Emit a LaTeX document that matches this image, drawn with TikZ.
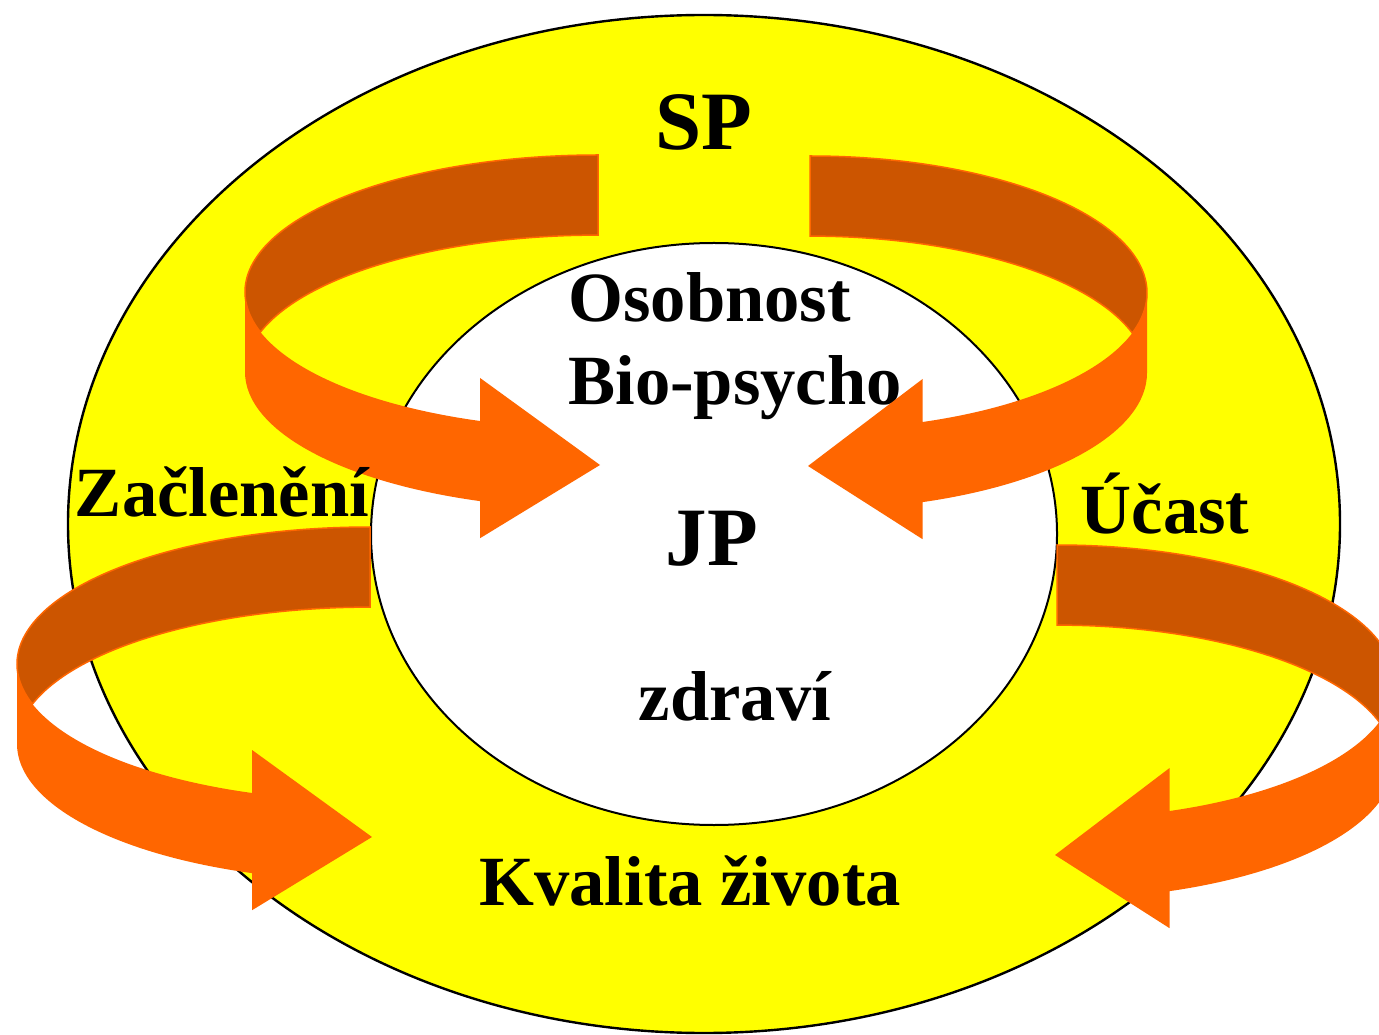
\documentclass[tikz,border=0pt]{standalone}
\usepackage{fontspec}
\setmainfont{Liberation Serif}
\usepackage{tikz}
\usetikzlibrary{positioning}

\definecolor{sunyellow}{HTML}{FFFF00}
\definecolor{ribbondark}{HTML}{CC5500}
\definecolor{ribbonorange}{HTML}{FF6600}

% curved ribbon arrow, #1 = x radius of the ribbon
\newcommand{\ribbonarrow}[1]{%
  \fill[ribbonback] (0,0) arc[start angle=90, end angle=197, x radius=#1, y radius=137]
    arc[start angle=163, end angle=90, x radius=#1, y radius=137] -- cycle;
  \fill[ribbonfront] (-#1,-137) -- (-#1,-217)
    arc[start angle=180, end angle=250.5, x radius=#1, y radius=137]
    -- ++(0,-37) -- (2,-310) -- (-0.334*#1,-223) -- (-0.334*#1,-266)
    arc[start angle=250.5, end angle=180, x radius=#1, y radius=137] -- cycle;
}

\begin{document}
\begin{tikzpicture}[x=0.5pt, y=0.5pt,
		ribbonback/.style={fill=ribbondark, draw=ribbonorange, line width=0.75pt},
		ribbonfront/.style={fill=ribbonorange},
		bigword/.style={font=\bfseries\fontsize{41.5}{45}\selectfont, inner sep=0pt, anchor=base},
		word/.style={font=\bfseries\fontsize{35.3}{40}\selectfont, inner sep=0pt, anchor=base}]
		\useasboundingbox (0,0) rectangle (1379,1034);
		
		\draw[fill=sunyellow, line width=1.2pt] (704,510) ellipse [x radius=636, y radius=509];
		\draw[fill=white, line width=1pt] (714,500) ellipse [x radius=343, y radius=291];
		
		\node[bigword] (sp) at (704,884) {SP};
		\node[word, anchor=base west] (osobnost) at (568,712) {Osobnost};
		\node[word, anchor=base west] (bio) at (568,629) {Bio-psycho};
		\node[bigword] (jp) at (712,469) {JP};
		\node[word] (zdravi) at (735,314) {zdraví};
		\node[word] (kvalita) at (690,129) {Kvalita života};
		\node[word] (ucast) at (1165,501) {Účast};
		
		%---------
		\begin{scope}[shift={(598,879)}] \ribbonarrow{353} \end{scope}
		\begin{scope}[shift={(810,878)}, xscale=-1] \ribbonarrow{337} \end{scope}
		\begin{scope}[shift={(370,507)}] \ribbonarrow{353} \end{scope}
		\begin{scope}[shift={(1057,489)}, xscale=-1] \ribbonarrow{337} \end{scope}
		
		\node[word] (zacleneni) at (222,517) {Začlenění};
	\end{tikzpicture}
\end{document}
